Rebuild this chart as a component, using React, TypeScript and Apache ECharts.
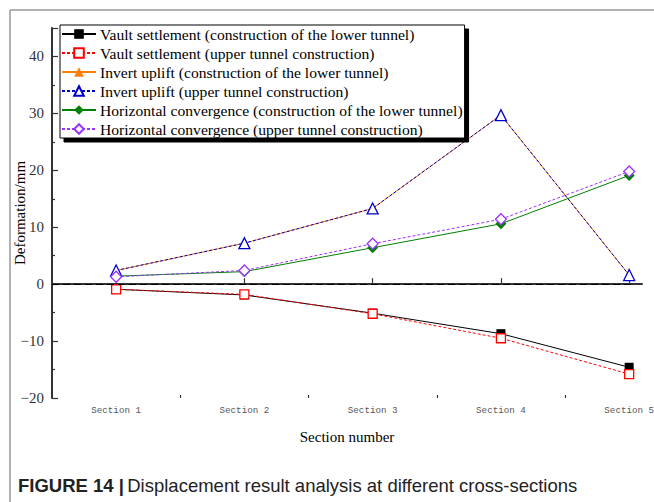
import React, { useEffect, useRef } from "react";
import * as echarts from "echarts";

const sections = [1, 2, 3, 4, 5];
const sectionLabels = ["Section 1", "Section 2", "Section 3", "Section 4", "Section 5"];
const yTicks = [-20, -10, 0, 10, 20, 30, 40];

const vaultLower = [-0.9, -1.9, -5.1, -8.7, -14.6];
const vaultUpper = [-0.9, -1.8, -5.2, -9.5, -15.8];
const invertLower = [2.4, 7.2, 13.3, 29.7, 1.6];
const invertUpper = [2.4, 7.2, 13.3, 29.7, 1.6];
const horizLower = [1.4, 2.2, 6.4, 10.6, 19.1];
const horizUpper = [1.3, 2.4, 7.1, 11.4, 19.8];

const seriesNames = [
  "Vault settlement (construction of the lower tunnel)",
  "Vault settlement (upper tunnel construction)",
  "Invert uplift (construction of the lower tunnel)",
  "Invert uplift (upper tunnel construction)",
  "Horizontal convergence (construction of the lower tunnel)",
  "Horizontal convergence (upper tunnel construction)",
];

const SERIF = "'Times New Roman', 'Liberation Serif', serif";

const pts = (vals: number[]) => sections.map((s, i) => [s, vals[i]]);

export default function App() {
  const ref = useRef<HTMLDivElement>(null);

  useEffect(() => {
    if (!ref.current) return;
    const chart = echarts.init(ref.current, undefined, { renderer: "svg" });

    const mk = (
      name: string,
      vals: number[],
      color: string,
      dashed: boolean,
      symbol: string,
      filled: boolean,
      size: number,
      z: number
    ) => ({
      name,
      type: "line",
      data: pts(vals),
      symbol,
      symbolSize: size,
      showAllSymbol: true,
      z,
      lineStyle: { color, width: 1, type: dashed ? [3, 2] : "solid" },
      itemStyle: {
        color: filled ? color : "#ffffff",
        borderColor: color,
        borderWidth: filled ? 0 : 1.3,
      },
    });

    const series: any[] = [
      mk(seriesNames[0], vaultLower, "#000000", false, "rect", true, 9, 2),
      mk(seriesNames[1], vaultUpper, "#ff0000", true, "rect", false, 9, 3),
      mk(seriesNames[2], invertLower, "#ff8000", false, "triangle", true, 10, 2),
      mk(seriesNames[3], invertUpper, "#0000cc", true, "triangle", false, 11, 3),
      mk(seriesNames[4], horizLower, "#008000", false, "diamond", true, 11, 2),
      mk(seriesNames[5], horizUpper, "#9933ff", true, "diamond", false, 11, 3),
    ];

    // zero reference line
    series[0].markLine = {
      silent: true,
      symbol: "none",
      label: { show: false },
      lineStyle: { color: "#000", type: [7, 4], width: 1.2 },
      data: [[{ coord: [0.5, 0] }, { coord: [5.03, 0] }]],
    };

    chart.setOption({
      animation: false,
      backgroundColor: "#ffffff",
      grid: { left: 52, top: 28, right: 12, bottom: 104, containLabel: false, outerBoundsMode: "none" },
      legend: {
        left: 60,
        top: 25,
        orient: "vertical",
        data: seriesNames,
        itemWidth: 34,
        itemHeight: 12,
        itemGap: 3,
        padding: [1, 2, 1, 1],
        borderColor: "#000",
        borderWidth: 1,
        backgroundColor: "#fff",
        shadowColor: "#000",
        shadowBlur: 0,
        shadowOffsetX: 4,
        shadowOffsetY: 4,
        textStyle: { fontFamily: SERIF, fontSize: 15.6, color: "#000", padding: [0, 0, 0, -1] },
      },
      xAxis: [
        {
          type: "value",
          min: 0.5,
          max: 5.1,
          name: "Section number",
          nameLocation: "middle",
          nameGap: 31,
          nameMoveOverlap: false,
          nameTextStyle: { fontFamily: SERIF, fontSize: 15, color: "#000" },
          axisLine: { lineStyle: { color: "#333", width: 2 } },
          axisTick: { inside: true, length: 6, customValues: sections, lineStyle: { color: "#333", width: 1.2 } },
          axisLabel: {
            customValues: sections,
            formatter: (v: number) => sectionLabels[sections.indexOf(v)] ?? "",
            fontFamily: "'Liberation Mono', 'DejaVu Sans Mono', monospace",
            fontSize: 9.2,
            color: "#555",
            margin: 8,
          },
          splitLine: { show: false },
        },
        {
          type: "value",
          min: 0.5,
          max: 5.1,
          position: "bottom",
          axisLine: { show: false },
          axisTick: { inside: true, length: 3, customValues: [1.5, 2.5, 3.5, 4.5], lineStyle: { color: "#333", width: 1.2 } },
          axisLabel: { show: false },
          splitLine: { show: false },
        },
      ],
      yAxis: {
        type: "value",
        min: -20,
        max: 45,
        interval: 10,
        name: "Deformation/mm",
        nameLocation: "middle",
        nameGap: 25,
        nameMoveOverlap: false,
        nameTextStyle: { fontFamily: SERIF, fontSize: 15, color: "#000" },
        axisLine: { show: true, lineStyle: { color: "#333", width: 2 } },
        axisTick: { inside: true, length: 6, lineStyle: { color: "#333", width: 1.2 } },
        minorTick: { show: true, splitNumber: 2, length: 3, lineStyle: { color: "#333", width: 1.2 } },
        axisLabel: {
          customValues: yTicks,
          formatter: (v: number) => String(v).replace("-", "\u2212"),
          fontFamily: SERIF,
          fontSize: 15,
          color: "#333",
          margin: 8,
        },
        splitLine: { show: false },
      },
      graphic: [
        { type: "line", shape: { x1: 10, y1: 10, x2: 654, y2: 10 }, style: { stroke: "#999", lineWidth: 1.5 } },
        { type: "line", shape: { x1: 10, y1: 10, x2: 10, y2: 502 }, style: { stroke: "#999", lineWidth: 1.5 } },
        {
          type: "text",
          left: 18,
          top: 476,
          style: {
            text: "{b|FIGURE 14 |} {n|Displacement result analysis at different cross-sections}",
            rich: {
              b: { fontFamily: "'Liberation Sans', Arial, sans-serif", fontWeight: "bold", fontSize: 18.5, fill: "#222" },
              n: { fontFamily: "'Liberation Sans', Arial, sans-serif", fontSize: 18.5, fill: "#222" },
            },
          },
        },
      ],
      series,
    });

    return () => chart.dispose();
  }, []);

  return <div ref={ref} style={{ position: "fixed", left: 0, top: 0, width: 654, height: 502 }} />;
}
